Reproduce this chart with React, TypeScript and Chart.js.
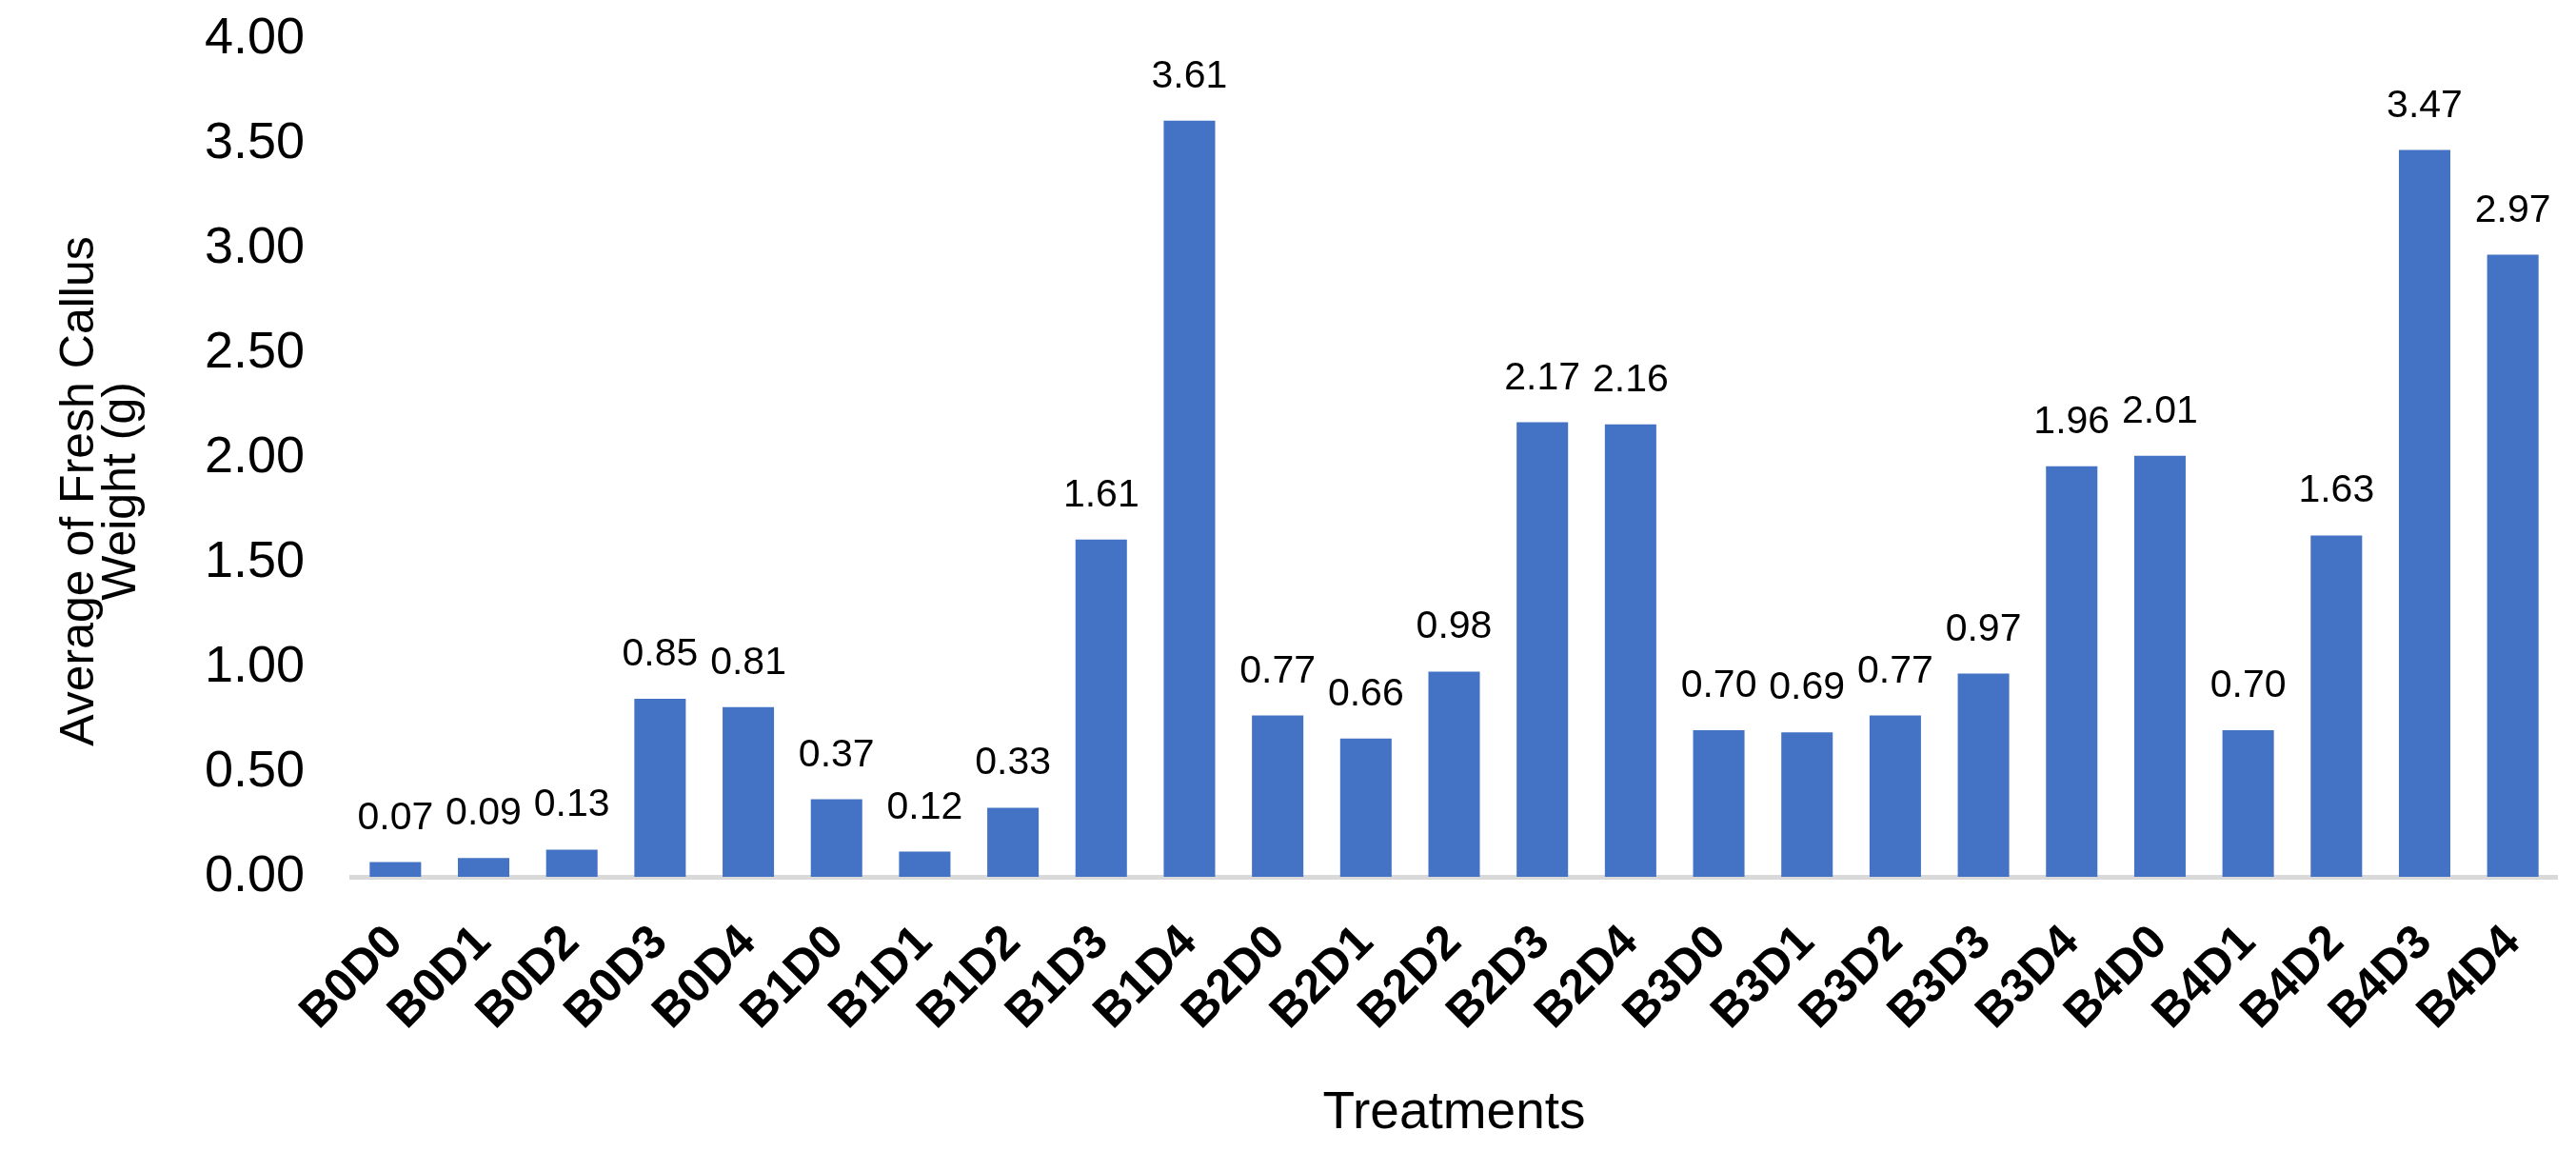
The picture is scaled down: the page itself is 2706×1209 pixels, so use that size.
import React, { useEffect, useRef } from "react";
import { Chart, registerables } from "chart.js";

Chart.register(...registerables);

const categories = [
  "B0D0", "B0D1", "B0D2", "B0D3", "B0D4",
  "B1D0", "B1D1", "B1D2", "B1D3", "B1D4",
  "B2D0", "B2D1", "B2D2", "B2D3", "B2D4",
  "B3D0", "B3D1", "B3D2", "B3D3", "B3D4",
  "B4D0", "B4D1", "B4D2", "B4D3", "B4D4",
];

const freshCallusWeight = [
  0.07, 0.09, 0.13, 0.85, 0.81,
  0.37, 0.12, 0.33, 1.61, 3.61,
  0.77, 0.66, 0.98, 2.17, 2.16,
  0.70, 0.69, 0.77, 0.97, 1.96,
  2.01, 0.70, 1.63, 3.47, 2.97,
];

const yTitleLines = ["Average of Fresh Callus", "Weight (g)"];
const xTitle = "Treatments";

const W = 2706;
const H = 1209;
const FONT = "'Liberation Sans', Arial, Helvetica, sans-serif";

const valueLabels = {
  id: "valueLabels",
  afterDatasetsDraw(chart: any) {
    const { ctx } = chart;
    const meta = chart.getDatasetMeta(0);
    const data = chart.data.datasets[0].data as number[];
    ctx.save();
    ctx.font = `41px ${FONT}`;
    ctx.fillStyle = "#000000";
    ctx.textAlign = "center";
    ctx.textBaseline = "alphabetic";
    meta.data.forEach((bar: any, i: number) => {
      ctx.fillText(Number(data[i]).toFixed(2), bar.x, bar.y - 35);
    });
    ctx.restore();
  },
};

// y-axis title, two centred lines, rotated like the reference
const yAxisTitle = {
  id: "yAxisTitle",
  afterDraw(chart: any) {
    const { ctx } = chart;
    const area = chart.chartArea;
    const cy = (area.top + area.bottom) / 2 + 35;
    const xs = [84, 128];
    ctx.save();
    ctx.font = `50px ${FONT}`;
    ctx.fillStyle = "#000000";
    ctx.textAlign = "center";
    ctx.textBaseline = "middle";
    yTitleLines.forEach((line, i) => {
      ctx.save();
      ctx.translate(xs[i], cy);
      ctx.rotate(-Math.PI / 2);
      ctx.fillText(line, 0, 0);
      ctx.restore();
    });
    ctx.restore();
  },
};

export default function App() {
  const ref = useRef<HTMLCanvasElement | null>(null);

  useEffect(() => {
    document.body.style.margin = "0";
    if (!ref.current) return;
    const chart = new Chart(ref.current, {
      type: "bar",
      data: {
        labels: categories,
        datasets: [
          {
            data: freshCallusWeight,
            backgroundColor: "#4472C4",
            borderWidth: 0,
            categoryPercentage: 1,
            barPercentage: 0.583,
          },
        ],
      },
      options: {
        responsive: false,
        animation: false,
        layout: { padding: { top: 41, right: 20, bottom: 6, left: 0 } },
        plugins: {
          legend: { display: false },
          tooltip: { enabled: false },
        },
        scales: {
          x: {
            grid: { display: false, drawTicks: false },
            border: { display: true, color: "#D9D9D9", width: 5 },
            ticks: {
              color: "#000000",
              font: { family: FONT, size: 50, weight: "bold" },
              minRotation: 45,
              maxRotation: 45,
              padding: 40,
              autoSkip: false,
            },
            title: {
              display: true,
              text: xTitle,
              color: "#000000",
              font: { family: FONT, size: 55, lineHeight: 1.2 },
              padding: { top: 0, bottom: 0 },
            },
            afterFit(scale: any) {
              scale.height = H - 921 - 6;
              scale.paddingLeft = 0;
              scale.paddingRight = 0;
            },
          },
          y: {
            min: 0,
            max: 4,
            grid: { display: false, drawTicks: false },
            border: { display: false },
            ticks: {
              stepSize: 0.5,
              color: "#000000",
              font: { family: FONT, size: 54 },
              padding: 49,
              callback: (v: any) => Number(v).toFixed(2),
            },
            title: { display: false },
            afterFit(scale: any) {
              scale.width = 369;
              scale.paddingTop = 30;
              scale.paddingBottom = 30;
            },
          },
        },
      },
      plugins: [valueLabels, yAxisTitle],
    });
    return () => chart.destroy();
  }, []);

  return <canvas ref={ref} width={W} height={H} style={{ display: "block" }} />;
}
